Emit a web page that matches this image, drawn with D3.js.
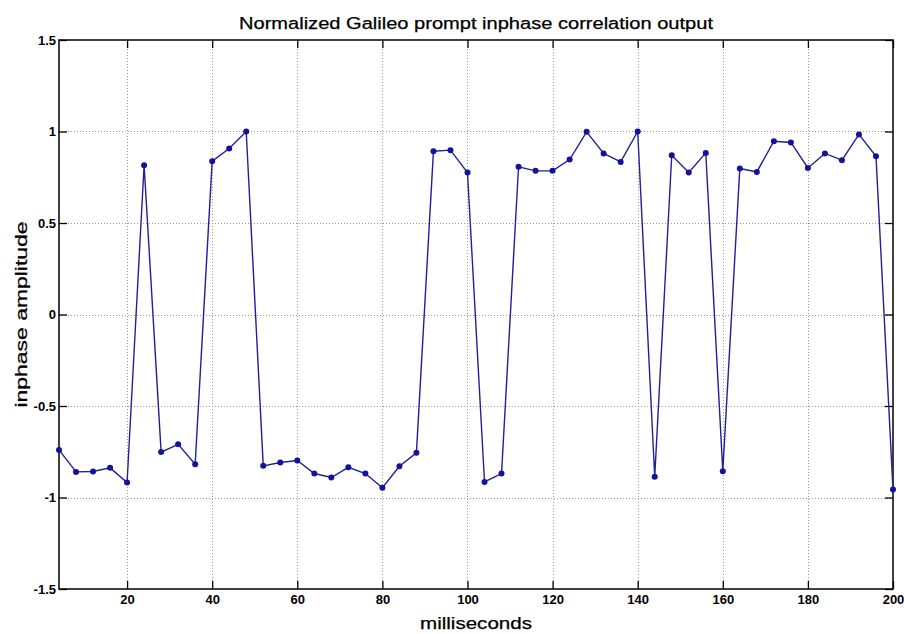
<!DOCTYPE html>
<html>
<head>
<meta charset="utf-8">
<script src="https://cdn.jsdelivr.net/npm/d3@7"></script>
<style>
  html, body { margin: 0; padding: 0; background: #fff; }
  svg { display: block; }
  text { font-family: "Liberation Sans", Arial, Helvetica, sans-serif; fill: #000; }
</style>
</head>
<body>
<div id="chart"></div>
<script>
const title = "Normalized Galileo prompt inphase correlation output";
const xLabel = "milliseconds";
const yLabel = "inphase amplitude";

const timesMs = [4, 8, 12, 16, 20, 24, 28, 32, 36, 40,
  44, 48, 52, 56, 60, 64, 68, 72, 76, 80,
  84, 88, 92, 96, 100, 104, 108, 112, 116, 120,
  124, 128, 132, 136, 140, 144, 148, 152, 156, 160,
  164, 168, 172, 176, 180, 184, 188, 192, 196, 200];

const amplitude = [-0.74, -0.86, -0.858, -0.838, -0.918, 0.816, -0.752, -0.709, -0.818, 0.838,
  0.907, 1.0, -0.827, -0.809, -0.798, -0.869, -0.891, -0.835, -0.869, -0.947,
  -0.829, -0.756, 0.892, 0.898, 0.776, -0.915, -0.869, 0.807, 0.785, 0.785,
  0.847, 0.998, 0.880, 0.834, 1.0, -0.887, 0.870, 0.776, 0.883, -0.856,
  0.798, 0.779, 0.947, 0.940, 0.801, 0.880, 0.843, 0.984, 0.865, -0.956];

const xTicks = [20, 40, 60, 80, 100, 120, 140, 160, 180, 200];
const yTicks = [-1.5, -1, -0.5, 0, 0.5, 1, 1.5];
const xDomain = [4, 200];
const yDomain = [-1.5, 1.5];

const W = 904, H = 634;
const margin = { left: 59, right: 11, top: 40, bottom: 45 };

const svg = d3.select("#chart").append("svg").attr("width", W).attr("height", H);

const x = d3.scaleLinear().domain(xDomain).range([margin.left, W - margin.right]);
const y = d3.scaleLinear().domain(yDomain).range([H - margin.bottom, margin.top]);

const x0 = x.range()[0], x1 = x.range()[1], y0 = y.range()[0], y1 = y.range()[1];

// horizontal stretch helper to mimic the reference's wide lettering
function stretch(sel, factor) {
  sel.each(function () {
    const w = this.getComputedTextLength();
    d3.select(this).attr("textLength", w * factor).attr("lengthAdjust", "spacingAndGlyphs");
  });
}

// grid
const grid = svg.append("g").attr("stroke", "#9a9a9a").attr("stroke-width", 1)
  .attr("stroke-dasharray", "1,2");
grid.selectAll("line.gx").data(xTicks.filter(t => t < xDomain[1])).join("line")
  .attr("x1", d => Math.round(x(d)) + 0.5).attr("x2", d => Math.round(x(d)) + 0.5)
  .attr("y1", y1).attr("y2", y0);
grid.selectAll("line.gy").data(yTicks.filter(t => t > yDomain[0] && t < yDomain[1])).join("line")
  .attr("y1", d => Math.round(y(d)) + 0.5).attr("y2", d => Math.round(y(d)) + 0.5)
  .attr("x1", x0).attr("x2", x1);

// axes (ticks inside, box)
const tickLen = 8;
const fmt = d => String(d);
const axB = svg.append("g").attr("transform", `translate(0,${y0})`)
  .call(d3.axisBottom(x).tickValues(xTicks).tickSizeInner(-tickLen).tickSizeOuter(0).tickPadding(6).tickFormat(fmt));
const axT = svg.append("g").attr("transform", `translate(0,${y1})`)
  .call(d3.axisTop(x).tickValues(xTicks).tickSizeInner(-tickLen).tickSizeOuter(0).tickFormat(""));
const axL = svg.append("g").attr("transform", `translate(${x0},0)`)
  .call(d3.axisLeft(y).tickValues(yTicks).tickSizeInner(-tickLen).tickSizeOuter(0).tickPadding(3).tickFormat(fmt));
const axR = svg.append("g").attr("transform", `translate(${x1},0)`)
  .call(d3.axisRight(y).tickValues(yTicks).tickSizeInner(-tickLen).tickSizeOuter(0).tickFormat(""));
[axB, axT, axL, axR].forEach(a => {
  a.select(".domain").remove();
  a.selectAll(".tick line").attr("stroke", "#000").attr("stroke-width", 1.3);
  a.selectAll("text").attr("font-size", 13).attr("font-weight", "bold")
    .attr("font-family", '"Liberation Sans", Arial, sans-serif').attr("fill", "#111");
});

svg.append("rect").attr("x", x0).attr("y", y1).attr("width", x1 - x0).attr("height", y0 - y1)
  .attr("fill", "none").attr("stroke", "#000").attr("stroke-width", 1.5);

// data
const pts = timesMs.map((t, i) => [t, amplitude[i]]);
const line = d3.line().x(d => x(d[0])).y(d => y(d[1]));
svg.append("path").datum(pts).attr("d", line)
  .attr("fill", "none").attr("stroke", "#20209a").attr("stroke-width", 1.4);
svg.append("g").selectAll("circle").data(pts).join("circle")
  .attr("cx", d => x(d[0])).attr("cy", d => y(d[1])).attr("r", 3)
  .attr("fill", "#12129a");

// labels
const cx = (x0 + x1) / 2;
svg.append("text").attr("x", cx).attr("y", 29).attr("text-anchor", "middle")
  .attr("font-size", 16).attr("textLength", 474).attr("lengthAdjust", "spacingAndGlyphs")
  .attr("stroke", "#000").attr("stroke-width", 0.25)
  .text(title);
svg.append("text").attr("x", cx).attr("y", 629).attr("text-anchor", "middle")
  .attr("font-size", 16).attr("textLength", 112).attr("lengthAdjust", "spacingAndGlyphs")
  .attr("stroke", "#000").attr("stroke-width", 0.25)
  .text(xLabel);
svg.append("text").attr("transform", `translate(27,${(y0 + y1) / 2}) rotate(-90)`)
  .attr("text-anchor", "middle").attr("font-size", 16).attr("textLength", 186).attr("lengthAdjust", "spacingAndGlyphs")
  .attr("stroke", "#000").attr("stroke-width", 0.25)
  .text(yLabel);
</script>
</body>
</html>
